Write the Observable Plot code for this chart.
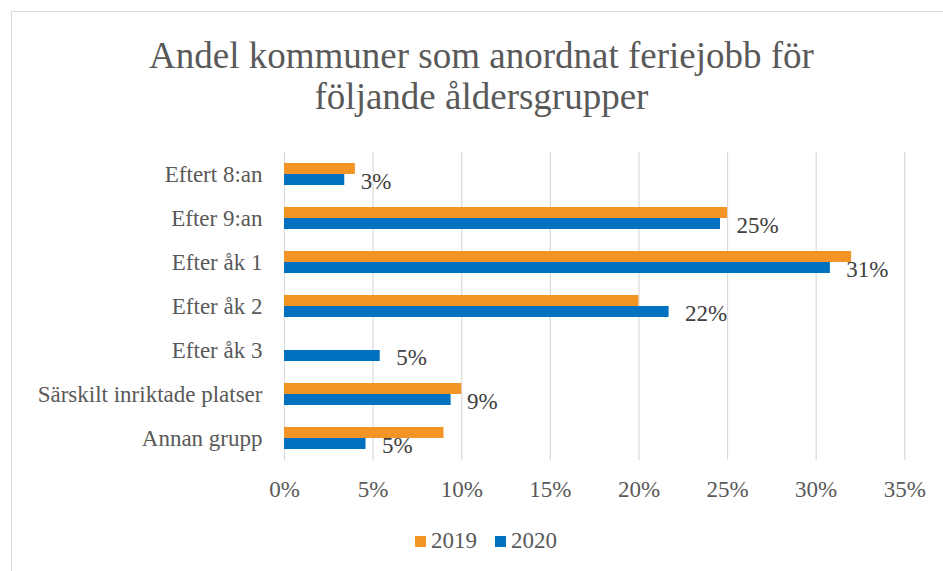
<!DOCTYPE html>
<html><head><meta charset="utf-8">
<script src="https://cdn.jsdelivr.net/npm/d3@7"></script>
<script src="https://cdn.jsdelivr.net/npm/@observablehq/plot@0.6"></script>
<style>
html,body{margin:0;padding:0;background:#fff;overflow:hidden;width:943px;height:571px;position:relative;}
#frame{position:absolute;left:11px;top:11px;width:1000px;height:700px;border:1px solid #d9d9d9;box-sizing:border-box;}
#title{position:absolute;left:0;width:963px;top:35px;text-align:center;font-family:"Liberation Serif";font-size:37px;line-height:41px;color:#595959;}
#chart{position:absolute;left:0;top:0;}
#legend{position:absolute;left:415px;top:530px;height:22px;display:flex;align-items:center;font-family:"Liberation Serif";font-size:23px;color:#595959;}
#legend .sw{display:inline-block;width:11px;height:11px;margin-right:5px;}
#legend .it{display:flex;align-items:center;margin-right:18px;}
</style>
</head><body>
<div id="frame"></div>
<div id="title">Andel kommuner som anordnat feriejobb för<br>följande åldersgrupper</div>
<div id="chart"></div>
<div id="legend"></div>
<script>
const categories = ["Eftert 8:an","Efter 9:an","Efter åk 1","Efter åk 2","Efter åk 3","Särskilt inriktade platser","Annan grupp"];
const series = ["2019","2020"];
const values2019 = [0.040,0.250,0.320,0.200,null,0.100,0.090];
const values2020 = [0.034,0.246,0.308,0.217,0.054,0.094,0.046];
const xTicks = [0,0.05,0.10,0.15,0.20,0.25,0.30,0.35];
const colors = ["#F39427","#0070C0"];

const data = [];
categories.forEach((c,i)=>{
  if (values2019[i] != null) data.push({category:c, series:"2019", value:values2019[i]});
  if (values2020[i] != null) data.push({category:c, series:"2020", value:values2020[i]});
});

const chart = Plot.plot({
  width:943, height:520,
  marginLeft:284, marginRight:38.7, marginTop:150, marginBottom:58.3,
  style:{fontFamily:"Liberation Serif", fontSize:"23px", color:"#595959", background:"transparent"},
  x:{domain:[0,0.35], ticks:xTicks, tickFormat:d3.format(".0%"), label:null, tickSize:0, tickPadding:20},
  fy:{domain:categories, padding:0, label:null, axis:"left", tickSize:0, tickPadding:22},
  y:{domain:series, paddingInner:0, paddingOuter:0.93, axis:null},
  color:{domain:series, range:colors},
  marks:[
    Plot.ruleX(xTicks,{stroke:"#d9d9d9", strokeWidth:1.2}),
    Plot.barX(data,{x:"value", y:"series", fy:"category", fill:"series"}),
    Plot.text(data.filter(d=>d.series==="2020"),{x:"value", y:"series", fy:"category",
      text:d=>Math.round(d.value*100)+"%", textAnchor:"start", dx:16, dy:2, fill:"#404040", fontSize:23, fontFamily:"Liberation Serif"})
  ]
});
document.getElementById("chart").appendChild(chart);

const legend = document.getElementById("legend");
series.forEach((s,i)=>{
  const it = document.createElement("span"); it.className="it";
  const sw = document.createElement("span"); sw.className="sw"; sw.style.background=colors[i];
  it.appendChild(sw); it.appendChild(document.createTextNode(s));
  legend.appendChild(it);
});
</script>
</body></html>
